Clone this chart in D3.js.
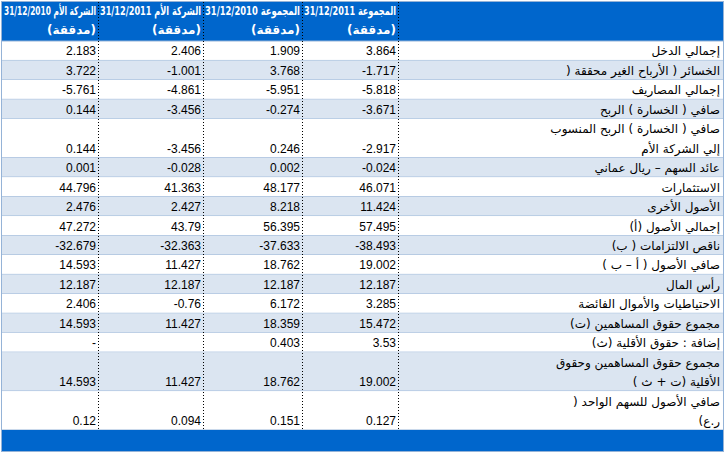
<!DOCTYPE html>
<html><head><meta charset="utf-8">
<script src="https://cdn.jsdelivr.net/npm/d3@7"></script>
<style>body{margin:0;background:#fff}</style></head>
<body><svg id="c" width="726" height="456"></svg>
<script>
const headers = [["الشركة الأم 31/12/2010","(مدققة)"],["الشركة الأم 31/12/2011","(مدققة)"],["المجموعة 31/12/2010","(مدققة)"],["المجموعة 31/12/2011","(مدققة)"]];
const labels = [
 ["إجمالي الدخل"],
 ["الخسائر ( الأرباح الغير محققة ("],
 ["إجمالي المصاريف"],
 ["صافي ( الخسارة ) الربح"],
 ["صافي ( الخسارة ) الربح المنسوب","إلي الشركة الأم"],
 ["عائد السهم – ريال عماني"],
 ["الاستثمارات"],
 ["الأصول الأخرى"],
 ["إجمالي الأصول (أ)"],
 ["ناقص الالتزامات ( ب)"],
 ["صافي الأصول ( أ – ب )"],
 ["رأس المال"],
 ["الاحتياطيات والأموال الفائضة"],
 ["مجموع حقوق المساهمين (ت)"],
 ["إضافة : حقوق الأقلية (ث)"],
 ["مجموع حقوق المساهمين وحقوق","الأقلية (ت + ث )"],
 ["صافي الأصول للسهم الواحد (","ر.ع)"]
];
const group2011 = [3.864,-1.717,-5.818,-3.671,-2.917,-0.024,46.071,11.424,57.495,-38.493,19.002,12.187,3.285,15.472,3.53,19.002,0.127];
const group2010 = [1.909,3.768,-5.951,-0.274,0.246,0.002,48.177,8.218,56.395,-37.633,18.762,12.187,6.172,18.359,0.403,18.762,0.151];
const parent2011 = [2.406,-1.001,-4.861,-3.456,-3.456,-0.028,41.363,2.427,43.79,-32.363,11.427,12.187,-0.76,11.427,null,11.427,0.094];
const parent2010 = [2.183,3.722,-5.761,0.144,0.144,0.001,44.796,2.476,47.272,-32.679,14.593,12.187,2.406,14.593,"-",14.593,0.12];
const series = [parent2010,parent2011,group2010,group2011];

const svg = d3.select("#c");
const colEdges = [2,98,203,302,398,723];
const top0 = 41, bottom0 = 430, unit = 19.5;
const units = labels.map(l=>l.length);
const cum = d3.cumsum(units); const starts = [0,...cum.slice(0,-1)];
const y = d3.scaleLinear().domain([0,d3.sum(units)]).range([top0,bottom0]);
const blue="#0066cc", light="#dbe5f1", border="#95b3d7";
const font="DejaVu Sans";

svg.append("rect").attr("x",2).attr("y",2).attr("width",721).attr("height",top0-2).attr("fill",blue);
labels.forEach((l,i)=>{
  const y0=y(starts[i]), y1=y(cum[i]);
  svg.append("rect").attr("x",2).attr("y",y0).attr("width",721).attr("height",y1-y0).attr("fill",i%2?light:"#fff");
  svg.append("line").attr("x1",2).attr("x2",723).attr("y1",y1).attr("y2",y1).attr("stroke",border);
  l.forEach((t,k)=>{
    svg.append("text").attr("x",720).attr("y",y1-5-(l.length-1-k)*unit).attr("direction","rtl").attr("text-anchor","start")
      .attr("font-family",font).attr("font-size",12).attr("fill","#000").text(t);
  });
  series.forEach((s,c)=>{
    const v=s[i];
    svg.append("text").attr("x",colEdges[c+1]-2).attr("y",y1-5).attr("text-anchor","end")
      .attr("font-family","Liberation Sans").attr("font-size",12).attr("fill","#000")
      .text(v==null?"":String(v));
  });
});
svg.append("line").attr("x1",2).attr("x2",723).attr("y1",top0).attr("y2",top0).attr("stroke",border);
svg.append("rect").attr("x",2).attr("y",bottom0).attr("width",721).attr("height",21).attr("fill",blue);
headers.forEach((h,c)=>{
  const w = colEdges[c+1]-colEdges[c]-4;
  h.forEach((t,k)=>{
    const el = svg.append("text").attr("x",colEdges[c+1]-2).attr("y",15+k*19).attr("direction","rtl").attr("text-anchor","start")
      .attr("font-family",font).attr("font-weight","bold").attr("font-size",12).attr("fill","#fff").text(t);
    if(k===0) el.attr("textLength",Math.min(w,120)).attr("lengthAdjust","spacingAndGlyphs");
  });
});
colEdges.slice(1,5).forEach(x=>{
  svg.append("line").attr("x1",x+0.5).attr("x2",x+0.5).attr("y1",2).attr("y2",bottom0)
    .attr("stroke","#000").attr("stroke-dasharray","1,2");
});
svg.append("rect").attr("x",1.5).attr("y",1.5).attr("width",722).attr("height",450).attr("fill","none").attr("stroke",border);
</script></body></html>
